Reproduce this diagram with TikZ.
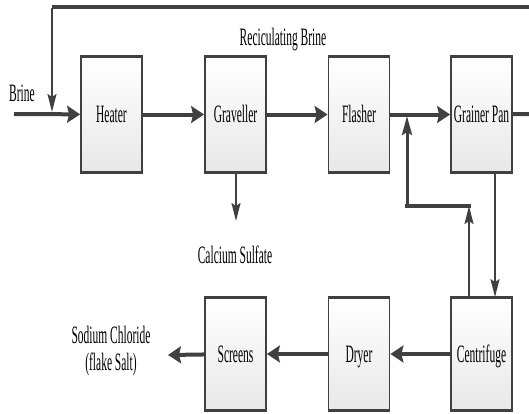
\documentclass[tikz,border=0pt]{standalone}
\usepackage{fontspec}
\setmainfont[FakeStretch=0.46]{Liberation Serif}
\usetikzlibrary{arrows.meta}
\definecolor{ink}{RGB}{64,64,64}
\begin{document}
\begin{tikzpicture}[x=1pt,y=-1pt,
  font=\fontsize{25}{25}\selectfont,
  unit/.style={draw=ink, line width=1.8pt, top color=white, bottom color=black!9,
    minimum width=61pt, text height=16pt, text depth=0pt, inner sep=0pt,
    append after command={\pgfextra{
      \draw[ink, line width=4.5pt] ([yshift=-1pt]\tikzlastnode.north west) -- ([yshift=-1pt]\tikzlastnode.north east);
      \draw[ink, line width=4.5pt] ([yshift=1pt]\tikzlastnode.south west) -- ([yshift=1pt]\tikzlastnode.south east);
    }}},
  toprow/.style={unit, minimum height=115pt},
  botrow/.style={unit, minimum height=112pt},
  label/.style={text=black, inner sep=0pt, text height=16pt, text depth=0pt},
  flow/.style={draw=ink, line width=4pt, -{Stealth[length=13pt,width=17pt,inset=2pt]}},
  side/.style={draw=ink, line width=2pt, -{Stealth[length=18pt,width=9pt,inset=3pt]}},
  ret/.style={draw=ink, line width=3pt, -{Stealth[length=19pt,width=10pt,inset=3pt]}},
  plain/.style={draw=ink, line width=4pt}
]
\useasboundingbox (0,0) rectangle (529,413);

% process units, upper row
\node[toprow] (heater)    at (111.5,114.5) {Heater};
\node[toprow] (graveller) at (235.5,114.5) {Graveller};
\node[toprow] (flasher)   at (359,114.5) {Flasher};
\node[toprow] (grainer)   at (481.5,114.5) {Grainer Pan};

% process units, lower row
\node[botrow] (screens)    at (235.5,354) {Screens};
\node[botrow] (dryer)      at (359,354) {Dryer};
\node[botrow] (centrifuge) at (481.5,354) {Centrifuge};

% free ends and bends
\coordinate (brinein)  at (14,114);
\coordinate (outright) at (529,114);
\coordinate (loopR)    at (529,7);
\coordinate (loopL)    at (52,7);
\coordinate (loopIn)   at (52,112);
\coordinate (junction) at (407,116);
\coordinate (bendL)    at (407,206);
\coordinate (bendR)    at (469,206);
\coordinate (caso)     at (236,221);
\coordinate (saltout)  at (168,355);

% main brine line
\draw[flow] (brinein) -- (heater);
\draw[flow] (heater) -- (graveller);
\draw[flow] (graveller) -- (flasher);
\draw[flow] (flasher) -- (grainer);
\draw[plain] (grainer) -- (outright);

% recirculating brine loop
\draw[plain] (loopR) -- (loopL);
\draw[side] ([yshift=-1pt]loopL) -- (loopIn);

% calcium sulfate draw-off
\draw[side] (graveller.south -| caso) -- (caso);

% grainer pan to centrifuge
\draw[side] (grainer.south -| 495,0) -- (centrifuge.north -| 495,0);

% mother liquor return
\draw[side] (centrifuge.north -| bendR) -- (bendR);
\draw[plain, line cap=rect] (bendR) -- (bendL);
\draw[ret] ([yshift=2pt]bendL) -- (junction);

% salt finishing
\draw[flow] (centrifuge) -- (dryer);
\draw[flow] (dryer) -- (screens);
\draw[flow] (screens) -- (saltout);

% stream labels
\node[label] (lbrine) at (22,93) {Brine};
\node[label] (lrecirc) at (283,37) {Reciculating Brine};
\node[label] (lcaso) at (235,255) {Calcium Sulfate};
\node[label, align=center, text height=, text depth=] (lsalt) at (111,351) {Sodium Chloride\\[2pt](flake Salt)};
\end{tikzpicture}
\end{document}
